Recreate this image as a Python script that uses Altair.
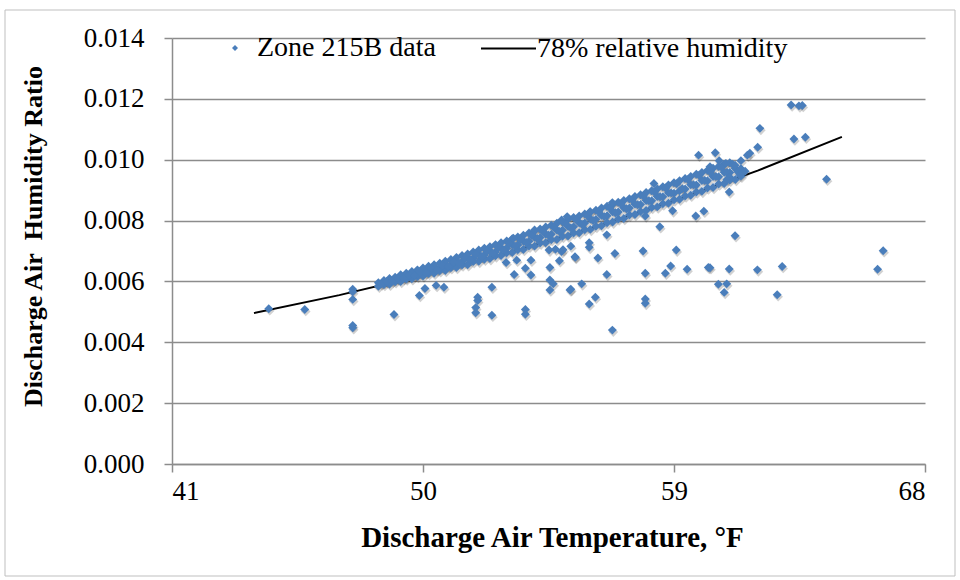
import altair as alt
import pandas as pd

# ---- 78% relative humidity curve ----
rh_x = [43.94, 47.0, 50.0, 53.0, 56.0, 59.0, 62.0, 65.02]
rh_y = [0.00496, 0.00555, 0.00620, 0.00693, 0.00774, 0.00865, 0.00964, 0.01075]

# ---- Zone 215B data: dense band (read column by column) ----
band_x = [48.4, 48.6, 48.8, 49.0, 49.2, 49.4, 49.6, 49.8, 50.0, 50.2, 50.4, 50.6, 50.8,
          51.0, 51.2, 51.4, 51.6, 51.8, 52.0, 52.2, 52.4, 52.6, 52.8, 53.0, 53.2, 53.4,
          53.6, 53.8, 54.0, 54.2, 54.4, 54.6, 54.8, 55.0, 55.2, 55.4, 55.6, 55.8, 56.0,
          56.2, 56.4, 56.6, 56.8, 57.0, 57.2, 57.4, 57.6, 57.8, 58.0, 58.2, 58.4, 58.6,
          58.8, 59.0, 59.2, 59.4, 59.6, 59.8, 60.0, 60.2, 60.4, 60.6, 60.8, 61.0, 61.2, 61.4]
band_low = [0.00584, 0.00590, 0.00591, 0.00599, 0.00600, 0.00608, 0.00609, 0.00616, 0.00618, 0.00626,
            0.00627, 0.00635, 0.00636, 0.00645, 0.00646, 0.00654, 0.00655, 0.00665, 0.00666, 0.00673,
            0.00675, 0.00684, 0.00685, 0.00694, 0.00695, 0.00704, 0.00705, 0.00716, 0.00716, 0.00726,
            0.00727, 0.00737, 0.00738, 0.00748, 0.00749, 0.00759, 0.00760, 0.00770, 0.00771, 0.00781,
            0.00783, 0.00793, 0.00795, 0.00805, 0.00807, 0.00818, 0.00820, 0.00830, 0.00833, 0.00843,
            0.00845, 0.00855, 0.00857, 0.00868, 0.00870, 0.00881, 0.00883, 0.00894, 0.00896, 0.00907,
            0.00909, 0.00920, 0.00922, 0.00933, 0.00935, 0.00946]
band_mid = [0.00596, 0.00597, 0.00604, 0.00606, 0.00614, 0.00613, 0.00625, 0.00624, 0.00634, 0.00634,
            0.00645, 0.00644, 0.00655, 0.00654, 0.00666, 0.00665, 0.00677, 0.00676, 0.00688, 0.00687,
            0.00699, 0.00697, 0.00710, 0.00709, 0.00721, 0.00720, 0.00733, 0.00732, 0.00745, 0.00744,
            0.00756, 0.00755, 0.00769, 0.00768, 0.00781, 0.00780, 0.00793, 0.00792, 0.00805, 0.00804,
            0.00817, 0.00816, 0.00829, 0.00828, 0.00842, 0.00841, 0.00854, 0.00853, 0.00866, 0.00865,
            0.00879, 0.00878, 0.00891, 0.00890, 0.00898, 0.00904, 0.00918, 0.00917, 0.00932, 0.00931,
            0.00945, 0.00944, 0.00959, 0.00958, 0.00971, 0.00969]
band_high = [None, 0.00603, 0.00610, 0.00614, 0.00622, 0.00627, 0.00633, 0.00638, 0.00644,
             0.00650, 0.00655, 0.00660, 0.00666, 0.00672, 0.00679, 0.00685, 0.00690, 0.00697,
             0.00703, 0.00709, 0.00714, 0.00721, 0.00727, 0.00733, 0.00740, 0.00746, 0.00752,
             0.00759, 0.00766, 0.00772, 0.00779, 0.00785, 0.00791, 0.00797, 0.00804, 0.00810,
             0.00815, 0.00822, 0.00828, 0.00834, 0.00841, 0.00847, 0.00853, 0.00860, 0.00866,
             0.00872, 0.00879, 0.00885, 0.00892, 0.00898, 0.00904, 0.00911, 0.00917, 0.00924,
             0.00931, 0.00938, 0.00945, 0.00952, 0.00958, 0.00965, 0.00972, 0.00978, 0.00985,
             0.00990, None, None]
band2_x = [48.5, 48.7, 48.9, 49.1, 49.3, 49.5, 49.7, 49.9, 50.1, 50.3, 50.5, 50.7, 50.9,
           51.1, 51.3, 51.5, 51.7, 51.9, 52.1, 52.3, 52.5, 52.7, 52.9, 53.1, 53.3, 53.5,
           53.7, 53.9, 54.1, 54.3, 54.5, 54.7, 54.9, 55.1, 55.3, 55.5, 55.7, 55.9, 56.1,
           56.3, 56.5, 56.7, 56.9, 57.1, 57.3, 57.5, 57.7, 57.9, 58.1, 58.3, 58.5, 58.7,
           58.9, 59.1, 59.3, 59.5, 59.7, 59.9, 60.1, 60.3, 60.5, 60.7, 60.9, 61.1, 61.3]
band2_y = [0.00592, 0.00600, 0.00601, 0.00610, 0.00610, 0.00620, 0.00619, 0.00630, 0.00628,
           0.00642, 0.00638, 0.00653, 0.00649, 0.00664, 0.00660, 0.00677, 0.00671, 0.00689,
           0.00682, 0.00700, 0.00693, 0.00712, 0.00704, 0.00725, 0.00716, 0.00738, 0.00728,
           0.00752, 0.00740, 0.00764, 0.00752, 0.00777, 0.00764, 0.00790, 0.00776, 0.00803,
           0.00788, 0.00816, 0.00800, 0.00829, 0.00813, 0.00842, 0.00826, 0.00855, 0.00839,
           0.00868, 0.00852, 0.00881, 0.00865, 0.00894, 0.00878, 0.00907, 0.00891, 0.00921,
           0.00905, 0.00935, 0.00918, 0.00949, 0.00932, 0.00962, 0.00945, 0.00975, 0.00958,
           0.00985, 0.00960]

# ---- Zone 215B data: scattered points ----
scat_x = [44.47, 45.76, 47.48, 47.48, 47.48, 47.48, 47.48, 48.96, 49.87, 50.07, 50.47, 50.75,
          51.96, 51.96, 51.89, 51.89, 52.47, 52.47, 52.98, 53.27, 53.36, 53.67, 53.87, 53.67,
          53.67, 53.87, 54.55, 54.55, 54.67, 54.55, 54.89, 55.27, 55.46, 54.97, 55.02, 55.45,
          55.30, 55.69, 55.96, 56.18, 56.27, 55.96, 55.96, 56.59, 56.59, 56.88, 56.79, 57.89,
          57.97, 57.97, 57.97, 57.97, 58.49, 58.69, 58.88, 59.08, 59.47, 60.23, 58.28, 59.88,
          59.78, 60.07, 58.95, 56.79, 63.20, 63.48, 63.60, 62.08, 63.30, 63.71, 62.00, 61.63,
          61.72, 61.40, 60.48, 60.62, 60.86, 61.19, 61.40, 60.98, 64.47, 61.19, 60.29, 60.98,
          61.99, 62.88, 60.59, 60.89, 60.80, 62.70, 66.50, 66.30, 55.30, 54.75, 54.52, 53.24,
          54.00, 54.97, 55.17, 55.99, 60.29, 61.00, 61.37, 61.55, 60.30, 60.90]
scat_y = [0.00510, 0.00508, 0.00574, 0.00566, 0.00541, 0.00448, 0.00455, 0.00491, 0.00554,
          0.00577, 0.00587, 0.00581, 0.00548, 0.00537, 0.00514, 0.00497, 0.00581, 0.00489,
          0.00662, 0.00623, 0.00670, 0.00643, 0.00621, 0.00508, 0.00492, 0.00670, 0.00646,
          0.00605, 0.00592, 0.00572, 0.00668, 0.00572, 0.00679, 0.00698, 0.00704, 0.00681,
          0.00574, 0.00592, 0.00526, 0.00548, 0.00677, 0.00727, 0.00712, 0.00623, 0.00753,
          0.00692, 0.00440, 0.00700, 0.00627, 0.00542, 0.00528, 0.00815, 0.00780, 0.00627,
          0.00651, 0.00703, 0.00640, 0.00646, 0.00922, 0.01015, 0.00815, 0.00831, 0.00832,
          0.00859, 0.01180, 0.01177, 0.01178, 0.01103, 0.01068, 0.01074, 0.01041, 0.01015,
          0.01021, 0.00997, 0.01023, 0.00997, 0.00988, 0.00982, 0.00970, 0.00894, 0.00936,
          0.00750, 0.00645, 0.00641, 0.00638, 0.00649, 0.00591, 0.00592, 0.00564, 0.00556,
          0.00701, 0.00640, 0.00716, 0.00706, 0.00703, 0.00742, 0.00769, 0.00802, 0.00813,
          0.00829, 0.00977, 0.00942, 0.00950, 0.00962, 0.00960, 0.00935]

x_ticks = [41, 50, 59, 68]
y_ticks = [0.000, 0.002, 0.004, 0.006, 0.008, 0.010, 0.012, 0.014]

pts = pd.concat([
    pd.DataFrame({"x": band_x, "y": band_low}),
    pd.DataFrame({"x": band_x, "y": band_mid}),
    pd.DataFrame({"x": band_x, "y": band_high}),
    pd.DataFrame({"x": band2_x, "y": band2_y}),
    pd.DataFrame({"x": scat_x, "y": scat_y}),
]).dropna()
pts["series"] = "Zone 215B data"
rh = pd.DataFrame({"x": rh_x, "y": rh_y, "series": "78% relative humidity"})

FONT = "Liberation Serif"
BLUE = "#4A7EBB"
GRID = "#8C8C8C"

xs = alt.Scale(domain=[41, 68], nice=False, zero=False)
ys = alt.Scale(domain=[0, 0.014], nice=False)

x_axis = alt.Axis(values=x_ticks, grid=False, title="Discharge Air Temperature, °F",
                  labelFontSize=27, labelPadding=6, tickSize=8, titleFontSize=29,
                  titleFontWeight="bold", titleX=380, titleY=82, titleAlign="center",
                  titleBaseline="alphabetic")
y_axis = alt.Axis(values=y_ticks, format=".3f", grid=True, title="Discharge Air\u00a0 Humidity Ratio",
                  labelFontSize=27, labelPadding=20, tickSize=8, titleFontSize=26,
                  titleFontWeight="bold", titleX=-139, titleY=198, titleAngle=-90,
                  titleAlign="center", titleBaseline="middle")

frame = alt.Chart(pd.DataFrame({"k": [0]})).mark_rect(
    fill=None, stroke="#BFBFBF", strokeWidth=1
).encode(x=alt.value(-167), x2=alt.value(783), y=alt.value(-28), y2=alt.value(538))

line = alt.Chart(rh).mark_line(strokeWidth=2).encode(
    x=alt.X("x:Q", scale=xs, axis=x_axis),
    y=alt.Y("y:Q", scale=ys, axis=y_axis),
    stroke=alt.Stroke("series:N", scale=alt.Scale(domain=["78% relative humidity"], range=["#000000"]),
                      legend=alt.Legend(orient="none", legendX=308, legendY=-18, title=None,
                                        symbolType="stroke", symbolSize=3025, symbolStrokeWidth=2,
                                        labelOffset=0, labelLimit=400, padding=0,
                                        labelFont=FONT, labelFontSize=28)),
)

shadow = alt.Chart(pts).mark_point(shape="diamond", filled=True, size=92, opacity=0.18,
                                   color="#000", xOffset=1, yOffset=2).encode(
    x=alt.X("x:Q", scale=xs), y=alt.Y("y:Q", scale=ys))

points = alt.Chart(pts).mark_point(shape="diamond", filled=True, size=80, opacity=1).encode(
    x=alt.X("x:Q", scale=xs),
    y=alt.Y("y:Q", scale=ys),
    color=alt.Color("series:N", scale=alt.Scale(domain=["Zone 215B data"], range=[BLUE]),
                    legend=alt.Legend(orient="none", legendX=49, legendY=-4, title=None,
                                      symbolType="diamond", symbolSize=36, labelOffset=8,
                                      labelLimit=400, padding=0, symbolStrokeWidth=0,
                                      labelFont=FONT, labelFontSize=28)),
)

chart = alt.layer(frame, line, shadow, points).properties(
    width=753, height=426,
    autosize=alt.AutoSizeParams(type="none"),
    padding={"left": 172, "top": 38, "right": 35, "bottom": 116},
).configure(font=FONT).configure_view(stroke=None).configure_axis(
    labelFont=FONT, titleFont=FONT, labelColor="#000", titleColor="#000",
    domainColor=GRID, tickColor=GRID, gridColor=GRID, gridWidth=1.5,
    domainWidth=1.5, tickWidth=1.5,
).configure_legend(
    labelFont=FONT, labelFontSize=28, labelColor="#000",
)

chart.save("out.html", embed_options={"renderer": "svg", "actions": False})
